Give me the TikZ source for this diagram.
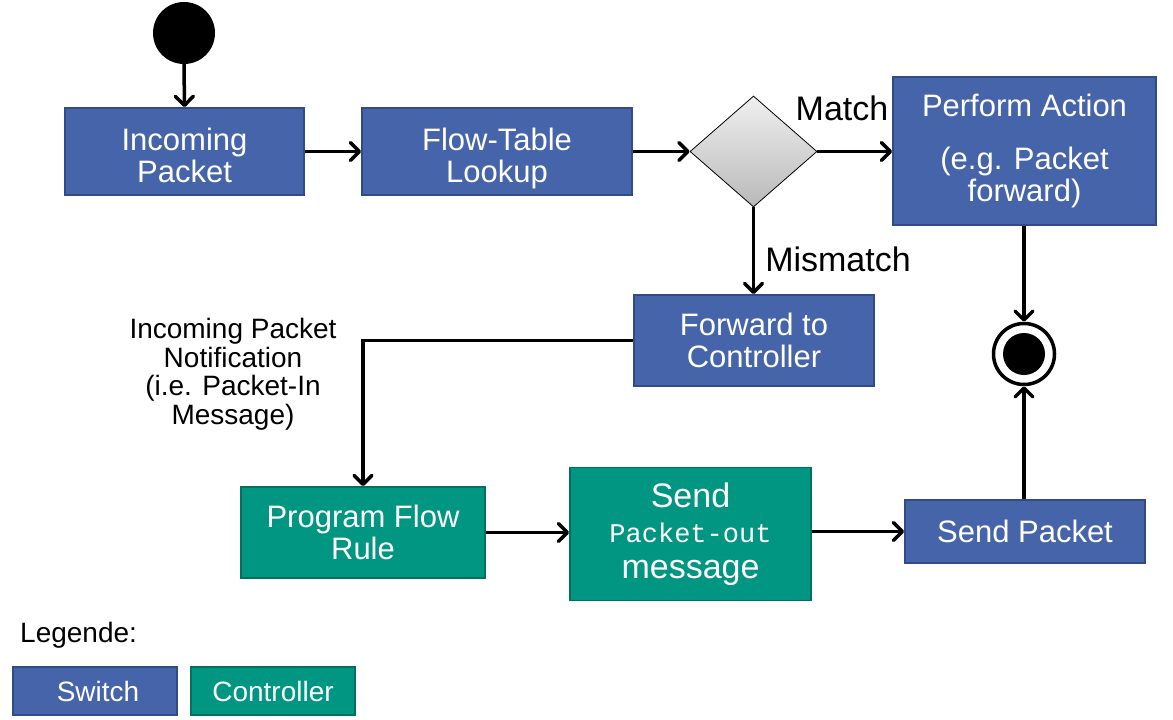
\documentclass[tikz,border=0pt]{standalone}
\usepackage{fontspec}
\setmainfont{Liberation Sans}
\setmonofont{Liberation Mono}
\usetikzlibrary{arrows.meta,shapes.geometric}
\definecolor{swfill}{RGB}{70,100,170}
\definecolor{swdraw}{RGB}{50,75,135}
\definecolor{ctfill}{RGB}{0,150,130}
\definecolor{ctdraw}{RGB}{0,112,95}
\tikzset{
  box/.style={rectangle, inner sep=0pt, line width=1.8pt, text=white, align=center,
    font=\fontsize{31}{32}\selectfont},
  swbox/.style={box, fill=swfill, draw=swdraw},
  ctbox/.style={box, fill=ctfill, draw=ctdraw},
  lowtext/.style={text height=61pt, text depth=0pt},
  arr/.style={line width=3.5pt, -{Straight Barb[length=9pt,width=18pt,round]}},
  lbl/.style={inner sep=0pt, font=\fontsize{34}{36}\selectfont},
}
\begin{document}
\begin{tikzpicture}[x=1pt,y=-1pt]
\useasboundingbox (0,0) rectangle (1173,720);
% start
\node[circle, fill=black, minimum size=62pt, inner sep=0pt] (start) at (184,33) {};
\node[swbox, lowtext, minimum width=239pt, minimum height=87pt] (inc) at (184.5,151.5) {Incoming\\Packet};
\node[swbox, lowtext, minimum width=270pt, minimum height=87pt] (ftl) at (497,151.5) {Flow-Table\\Lookup};
\node[diamond, draw=black, line width=0.8pt, top color=gray!12, bottom color=gray!55,
  minimum width=127pt, minimum height=111pt, inner sep=0pt] (dia) at (753.5,151.5) {};
\node[swbox, minimum width=263pt, minimum height=148pt] (pa) at (1024.5,151)
  {Perform Action\\[21pt](e.g. Packet\\forward)};
\node[circle, draw=black, fill=white, line width=3.5pt, minimum size=61pt, inner sep=0pt] (fin) at (1024,354) {};
\node[circle, fill=black, minimum size=42pt, inner sep=0pt] (fincore) at (fin.center) {};
\node[swbox, minimum width=240pt, minimum height=91pt] (fwd) at (754,340.5) {Forward to\\Controller};
\node[ctbox, minimum width=244pt, minimum height=91pt] (pfr) at (363,532.5) {Program Flow\\Rule};
\node[ctbox, minimum width=241pt, minimum height=133pt] (spo) at (690.5,534)
  {\fontsize{34}{38}\selectfont Send\\[3pt]{\ttfamily\fontsize{27}{33}\selectfont Packet-out}\\[4pt]\fontsize{34}{34}\selectfont message};
\node[swbox, minimum width=240pt, minimum height=63pt] (sp) at (1025,531.5) {Send Packet};
% labels
\node[lbl] (match) at (842,108) {Match};
\node[lbl] (mismatch) at (838,259) {Mismatch};
\node[inner sep=0pt, align=center, font=\fontsize{28}{28.5}\selectfont] (note) at (233,374.5)
  {Incoming Packet\\Notification\\(i.e. Packet-In\\Message)};
% legend
\node[inner sep=0pt, anchor=west, font=\fontsize{28}{30}\selectfont] (leg) at (20,635) {Legende:};
\node[swbox, minimum width=164pt, minimum height=48pt, font=\fontsize{28}{30}\selectfont] (lsw) at (95,691) {\hspace*{6pt}Switch};
\node[ctbox, minimum width=164pt, minimum height=48pt, font=\fontsize{28}{30}\selectfont] (lct) at (273,691) {Controller};
% connectors
\draw[arr] (start.south) -- (inc.north);
\draw[arr] (inc.east) -- (ftl.west);
\draw[arr] (ftl.east) -- (dia.west);
\draw[arr] (dia.east) -- (pa.west |- dia.east);
\draw[arr] (dia.south) -- (fwd.north -| dia.south);
\draw[arr] (pa.south -| fin.north) -- (fin.north);
\draw[arr] (fwd.west) -| (pfr.north);
\draw[arr] (pfr.east) -- (spo.west |- pfr.east);
\draw[arr] (spo.east |- sp.west) -- (sp.west);
\draw[arr] (sp.north -| fin.south) -- (fin.south);
\end{tikzpicture}
\end{document}
